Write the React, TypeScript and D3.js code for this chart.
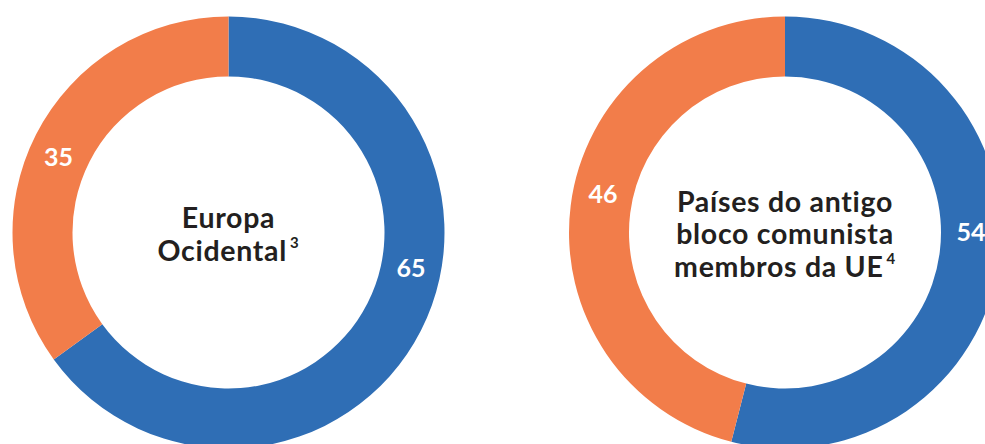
import React from "react";
import * as d3 from "d3";

const regions = ["Europa Ocidental", "Países do antigo bloco comunista membros da UE"];
const titleLines = [["Europa", "Ocidental"], ["Países do antigo", "bloco comunista", "membros da UE"]];
const footnotes = ["3", "4"];
const segments = ["blue", "orange"];
const blueValues = [65, 54];
const orangeValues = [35, 46];
// label angle (degrees, clockwise from top) for each segment label
const blueLabelAngles = [101, 90];
const orangeLabelAngles = [294, 282];

const W = 985;
const H = 444;
const colors: Record<string, string> = { blue: "#2F6EB5", orange: "#F27D4A" };

export default function App() {
  const outerR = 216;
  const innerR = 156;
  const centers = [
    { x: 228.5, y: 232.5 },
    { x: 785, y: 232.5 },
  ];
  const pie = d3.pie<{ key: string; value: number }>().sort(null).value((d) => d.value);
  const arc = d3.arc<d3.PieArcDatum<{ key: string; value: number }>>().innerRadius(innerR).outerRadius(outerR);
  const labelR = (outerR + innerR) / 2;
  const fontFamily = "Lato, 'Open Sans', sans-serif";

  return (
    <svg width={W} height={H} style={{ position: "absolute", left: 0, top: 0, background: "#fff" }}>
      {regions.map((r, i) => {
        const data = [
          { key: segments[0], value: blueValues[i] },
          { key: segments[1], value: orangeValues[i] },
        ];
        const arcs = pie(data);
        const labelAngles = [blueLabelAngles[i], orangeLabelAngles[i]];
        const lines = titleLines[i];
        const lh = 32.5;
        const firstBaseline = i === 0 ? 228 : 211.5;
        return (
          <g key={r} transform={`translate(${centers[i].x},${centers[i].y})`}>
            {arcs.map((a) => (
              <path key={a.data.key} d={arc(a) || ""} fill={colors[a.data.key]} />
            ))}
            {arcs.map((a, j) => {
              const ang = (labelAngles[j] * Math.PI) / 180;
              return (
                <text
                  key={"l" + j}
                  x={labelR * Math.sin(ang)}
                  y={-labelR * Math.cos(ang)}
                  dy="0.35em"
                  textAnchor="middle"
                  fill="#fff"
                  fontFamily={fontFamily}
                  fontWeight={700}
                  fontSize={25}
                >
                  {a.data.value}
                </text>
              );
            })}
            <text
              textAnchor="middle"
              fill="#231F20"
              fontFamily={fontFamily}
              fontWeight={700}
              fontSize={28.5}
              letterSpacing={0.7}
            >
              {lines.map((ln, k) => (
                <tspan key={k} x={0} y={firstBaseline - centers[i].y + k * lh}>
                  {ln}
                  {k === lines.length - 1 ? (
                    <tspan fontSize={15} dy={-13} dx={3}>
                      {footnotes[i]}
                    </tspan>
                  ) : null}
                </tspan>
              ))}
            </text>
          </g>
        );
      })}
    </svg>
  );
}
